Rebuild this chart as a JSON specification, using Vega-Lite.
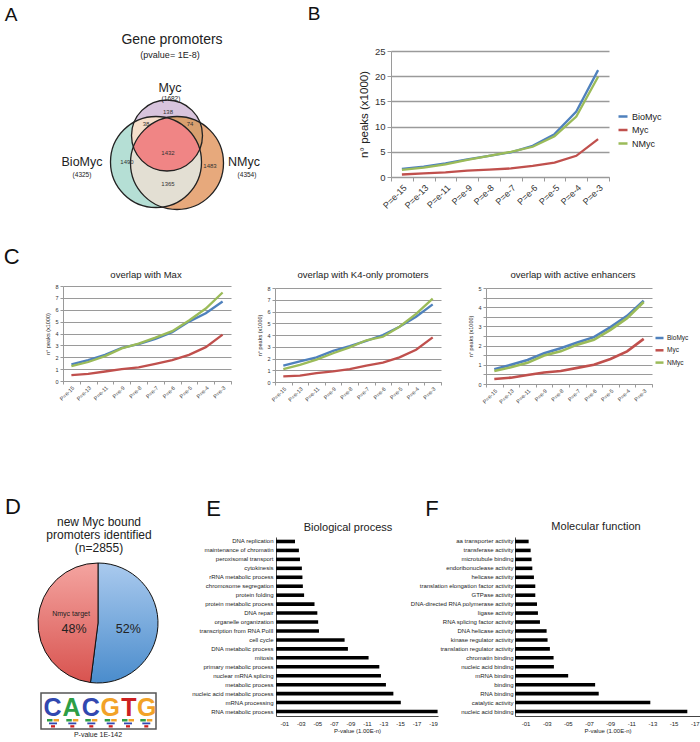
{
  "$schema": "https://vega.github.io/schema/vega-lite/v6.json",
  "width": 700,
  "height": 742,
  "autosize": {"type": "none"},
  "padding": 0,
  "background": "#ffffff",
  "config": {
    "font": "Liberation Sans",
    "view": {"stroke": null},
    "axis": {"labelColor": "#333333", "titleColor": "#222222", "titleFontWeight": "normal", "domainColor": "#9a9a9a", "tickColor": "#9a9a9a", "gridColor": "#9a9a9a"},
    "legend": {"padding": 0, "labelColor": "#222222"},
    "text": {"color": "#222222"}
  },
  "datasets": {
    "lines": [
      {"panel": "B", "p": "P=e-15", "BioMyc": 1.6, "Myc": 0.5, "NMyc": 1.4},
      {"panel": "B", "p": "P=e-13", "BioMyc": 2.05, "Myc": 0.7, "NMyc": 1.85},
      {"panel": "B", "p": "P=e-11", "BioMyc": 2.7, "Myc": 0.9, "NMyc": 2.5},
      {"panel": "B", "p": "P=e-9", "BioMyc": 3.5, "Myc": 1.25, "NMyc": 3.4},
      {"panel": "B", "p": "P=e-8", "BioMyc": 4.2, "Myc": 1.45, "NMyc": 4.2},
      {"panel": "B", "p": "P=e-7", "BioMyc": 4.9, "Myc": 1.7, "NMyc": 5.0},
      {"panel": "B", "p": "P=e-6", "BioMyc": 6.2, "Myc": 2.2, "NMyc": 6.0},
      {"panel": "B", "p": "P=e-5", "BioMyc": 8.5, "Myc": 2.85, "NMyc": 8.1},
      {"panel": "B", "p": "P=e-4", "BioMyc": 13.0, "Myc": 4.2, "NMyc": 12.0},
      {"panel": "B", "p": "P=e-3", "BioMyc": 21.2, "Myc": 7.5, "NMyc": 19.9},
      {"panel": "C1", "p": "P=e-15", "BioMyc": 1.4, "Myc": 0.5, "NMyc": 1.25},
      {"panel": "C1", "p": "P=e-13", "BioMyc": 1.75, "Myc": 0.6, "NMyc": 1.6},
      {"panel": "C1", "p": "P=e-11", "BioMyc": 2.2, "Myc": 0.8, "NMyc": 2.1},
      {"panel": "C1", "p": "P=e-9", "BioMyc": 2.8, "Myc": 1.0, "NMyc": 2.75},
      {"panel": "C1", "p": "P=e-8", "BioMyc": 3.1, "Myc": 1.15, "NMyc": 3.15},
      {"panel": "C1", "p": "P=e-7", "BioMyc": 3.55, "Myc": 1.45, "NMyc": 3.65},
      {"panel": "C1", "p": "P=e-6", "BioMyc": 4.1, "Myc": 1.75, "NMyc": 4.2},
      {"panel": "C1", "p": "P=e-5", "BioMyc": 5.0, "Myc": 2.2, "NMyc": 5.1},
      {"panel": "C1", "p": "P=e-4", "BioMyc": 5.7, "Myc": 2.85, "NMyc": 6.1},
      {"panel": "C1", "p": "P=e-3", "BioMyc": 6.7, "Myc": 3.9, "NMyc": 7.45},
      {"panel": "C2", "p": "P=e-15", "BioMyc": 1.4, "Myc": 0.48, "NMyc": 1.1},
      {"panel": "C2", "p": "P=e-13", "BioMyc": 1.75, "Myc": 0.55, "NMyc": 1.45},
      {"panel": "C2", "p": "P=e-11", "BioMyc": 2.1, "Myc": 0.75, "NMyc": 1.9},
      {"panel": "C2", "p": "P=e-9", "BioMyc": 2.65, "Myc": 0.9, "NMyc": 2.45},
      {"panel": "C2", "p": "P=e-8", "BioMyc": 3.05, "Myc": 1.1, "NMyc": 2.95},
      {"panel": "C2", "p": "P=e-7", "BioMyc": 3.5, "Myc": 1.4, "NMyc": 3.55},
      {"panel": "C2", "p": "P=e-6", "BioMyc": 4.0, "Myc": 1.65, "NMyc": 3.85},
      {"panel": "C2", "p": "P=e-5", "BioMyc": 4.7, "Myc": 2.1, "NMyc": 4.7},
      {"panel": "C2", "p": "P=e-4", "BioMyc": 5.55, "Myc": 2.75, "NMyc": 5.8},
      {"panel": "C2", "p": "P=e-3", "BioMyc": 6.6, "Myc": 3.8, "NMyc": 7.1},
      {"panel": "C3", "p": "P=e-15", "BioMyc": 0.77, "Myc": 0.26, "NMyc": 0.68},
      {"panel": "C3", "p": "P=e-13", "BioMyc": 1.0, "Myc": 0.33, "NMyc": 0.87},
      {"panel": "C3", "p": "P=e-11", "BioMyc": 1.25, "Myc": 0.47, "NMyc": 1.1},
      {"panel": "C3", "p": "P=e-9", "BioMyc": 1.6, "Myc": 0.6, "NMyc": 1.48},
      {"panel": "C3", "p": "P=e-8", "BioMyc": 1.86, "Myc": 0.68, "NMyc": 1.7},
      {"panel": "C3", "p": "P=e-7", "BioMyc": 2.16, "Myc": 0.84, "NMyc": 2.05},
      {"panel": "C3", "p": "P=e-6", "BioMyc": 2.44, "Myc": 1.0, "NMyc": 2.3},
      {"panel": "C3", "p": "P=e-5", "BioMyc": 2.96, "Myc": 1.3, "NMyc": 2.82},
      {"panel": "C3", "p": "P=e-4", "BioMyc": 3.55, "Myc": 1.7, "NMyc": 3.43},
      {"panel": "C3", "p": "P=e-3", "BioMyc": 4.34, "Myc": 2.35, "NMyc": 4.27}
    ],
    "vcircles": [
      {"set": "BioMyc", "x": 156, "y": 162, "r": 45.5},
      {"set": "NMyc", "x": 177, "y": 163, "r": 46.5},
      {"set": "Myc", "x": 167, "y": 135.5, "r": 35.5}
    ],
    "vregions": [
      {"set": "BioMyc∩NMyc", "x": 167, "y": 155},
      {"set": "Myc∩BioMyc", "x": 167, "y": 155},
      {"set": "Myc∩NMyc", "x": 167, "y": 155},
      {"set": "all", "x": 167, "y": 155}
    ],
    "notes": [
      {"k": "letterA", "t": "A", "x": 11, "y": 15},
      {"k": "letterA", "t": "B", "x": 314, "y": 14},
      {"k": "letterC", "t": "C", "x": 11.7, "y": 256.7},
      {"k": "letterC", "t": "D", "x": 13, "y": 507},
      {"k": "letterC", "t": "E", "x": 213.5, "y": 509},
      {"k": "letterC", "t": "F", "x": 432, "y": 509},
      {"k": "title", "t": "Gene promoters", "x": 172, "y": 40},
      {"k": "sub", "t": "(pvalue= 1E-8)", "x": 170, "y": 54.5},
      {"k": "label", "t": "Myc", "x": 170, "y": 88},
      {"k": "label", "t": "BioMyc", "x": 82, "y": 162},
      {"k": "label", "t": "NMyc", "x": 244, "y": 162},
      {"k": "count", "t": "(1682)", "x": 171, "y": 98.5},
      {"k": "count", "t": "(4325)", "x": 82, "y": 174.5},
      {"k": "count", "t": "(4354)", "x": 247, "y": 174.5},
      {"k": "num", "t": "138", "x": 168, "y": 112},
      {"k": "num", "t": "38", "x": 146, "y": 124},
      {"k": "num", "t": "74", "x": 190, "y": 124},
      {"k": "num", "t": "1432", "x": 168, "y": 153},
      {"k": "num", "t": "1490", "x": 127, "y": 162},
      {"k": "num", "t": "1483", "x": 210, "y": 166},
      {"k": "num", "t": "1365", "x": 168, "y": 184},
      {"k": "ctitle", "t": "overlap with Max", "x": 146, "y": 275},
      {"k": "ctitle", "t": "overlap with K4-only promoters", "x": 363, "y": 275},
      {"k": "ctitle", "t": "overlap with active enhancers", "x": 573, "y": 275},
      {"k": "eftitle", "t": "Biological process", "x": 348, "y": 528},
      {"k": "eftitle", "t": "Molecular function", "x": 596, "y": 527},
      {"k": "dtitle", "t": "new Myc bound", "x": 99, "y": 526},
      {"k": "dtitle", "t": "promoters identified", "x": 99, "y": 539},
      {"k": "dtitle", "t": "(n=2855)", "x": 99, "y": 552},
      {"k": "small", "t": "Nmyc target", "x": 71, "y": 614},
      {"k": "small", "t": "P-value 1E-142", "x": 98, "y": 735},
      {"k": "pct", "t": "48%", "x": 74, "y": 629},
      {"k": "pct", "t": "52%", "x": 128.3, "y": 629}
    ],
    "pie": [
      {"grp": "other", "pct": 52, "idx": 1, "x": 98, "y": 623},
      {"grp": "Nmyc target", "pct": 48, "idx": 2, "x": 98, "y": 623}
    ],
    "logo": [
      {"t": "C", "x": 52.5, "y": 716},
      {"t": "A", "x": 71.5, "y": 716},
      {"t": "C", "x": 90.7, "y": 716},
      {"t": "G", "x": 110.3, "y": 716},
      {"t": "T", "x": 129, "y": 716},
      {"t": "G", "x": 146.8, "y": 716}
    ],
    "logobox": [{"x1": 41, "x2": 156, "y1": 693, "y2": 729}],
    "minilogo": [
      {"x1": 47, "x2": 52.5, "y1": 719, "y2": 721.5, "b": "A"},
      {"x1": 53.5, "x2": 59, "y1": 719, "y2": 721.5, "b": "G"},
      {"x1": 49, "x2": 57, "y1": 722.5, "y2": 724.3, "b": "C"},
      {"x1": 51, "x2": 55, "y1": 725.2, "y2": 727.5, "b": "T"},
      {"x1": 66.3, "x2": 71.8, "y1": 719, "y2": 721.5, "b": "A"},
      {"x1": 72.8, "x2": 78.3, "y1": 719, "y2": 721.5, "b": "G"},
      {"x1": 68.3, "x2": 76.3, "y1": 722.5, "y2": 724.3, "b": "C"},
      {"x1": 70.3, "x2": 74.3, "y1": 725.2, "y2": 727.5, "b": "T"},
      {"x1": 85.3, "x2": 90.8, "y1": 719, "y2": 721.5, "b": "A"},
      {"x1": 91.8, "x2": 97.3, "y1": 719, "y2": 721.5, "b": "G"},
      {"x1": 87.3, "x2": 95.3, "y1": 722.5, "y2": 724.3, "b": "C"},
      {"x1": 89.3, "x2": 93.3, "y1": 725.2, "y2": 727.5, "b": "T"},
      {"x1": 104.7, "x2": 110.2, "y1": 719, "y2": 721.5, "b": "A"},
      {"x1": 111.2, "x2": 116.7, "y1": 719, "y2": 721.5, "b": "G"},
      {"x1": 106.7, "x2": 114.7, "y1": 722.5, "y2": 724.3, "b": "C"},
      {"x1": 108.7, "x2": 112.7, "y1": 725.2, "y2": 727.5, "b": "T"},
      {"x1": 122, "x2": 127.5, "y1": 719, "y2": 721.5, "b": "A"},
      {"x1": 128.5, "x2": 134, "y1": 719, "y2": 721.5, "b": "G"},
      {"x1": 124, "x2": 132, "y1": 722.5, "y2": 724.3, "b": "C"},
      {"x1": 126, "x2": 130, "y1": 725.2, "y2": 727.5, "b": "T"},
      {"x1": 140.3, "x2": 145.8, "y1": 719, "y2": 721.5, "b": "A"},
      {"x1": 146.8, "x2": 152.3, "y1": 719, "y2": 721.5, "b": "G"},
      {"x1": 142.3, "x2": 150.3, "y1": 722.5, "y2": 724.3, "b": "C"},
      {"x1": 144.3, "x2": 148.3, "y1": 725.2, "y2": 727.5, "b": "T"}
    ],
    "bp": [
      {"term": "DNA replication", "v": 2.3},
      {"term": "maintenance of chromatin", "v": 2.77},
      {"term": "peroxisomal transport", "v": 2.9},
      {"term": "cytokinesis", "v": 3.13},
      {"term": "rRNA metabolic process", "v": 3.2},
      {"term": "chromosome segregation", "v": 3.25},
      {"term": "protein folding", "v": 3.4},
      {"term": "protein metabolic process", "v": 4.66},
      {"term": "DNA repair", "v": 5.0},
      {"term": "organelle organization", "v": 5.1},
      {"term": "transcription from RNA PolII", "v": 5.2},
      {"term": "cell cycle", "v": 8.3},
      {"term": "DNA metabolic process", "v": 8.7},
      {"term": "mitosis", "v": 11.2},
      {"term": "primary metabolic process", "v": 12.5},
      {"term": "nuclear mRNA splicing", "v": 12.7},
      {"term": "metabolic process", "v": 13.3},
      {"term": "nucleic acid metabolic process", "v": 14.2},
      {"term": "mRNA processing", "v": 15.1},
      {"term": "RNA metabolic process", "v": 19.55}
    ],
    "mf": [
      {"term": "aa transporter activity", "v": 1.29},
      {"term": "transferase activity", "v": 1.48},
      {"term": "microtubule binding", "v": 1.57},
      {"term": "endoribonuclease activity", "v": 1.64},
      {"term": "helicase activity", "v": 1.79},
      {"term": "translation elongation factor activity", "v": 1.92},
      {"term": "GTPase activity", "v": 1.92},
      {"term": "DNA-directed RNA polymerase activity", "v": 2.08},
      {"term": "ligase activity", "v": 2.17},
      {"term": "RNA splicing factor activity", "v": 2.36},
      {"term": "DNA helicase activity", "v": 2.99},
      {"term": "kinase regulator activity", "v": 3.08},
      {"term": "translation regulator activity", "v": 3.3},
      {"term": "chromatin binding", "v": 3.65},
      {"term": "nucleic acid binding ", "v": 3.68},
      {"term": "mRNA binding", "v": 5.03},
      {"term": "binding", "v": 7.58},
      {"term": "RNA binding", "v": 7.92},
      {"term": "catalytic activity", "v": 12.8},
      {"term": "nucleic acid binding", "v": 16.3}
    ]
  },
  "resolve": {
    "scale": {"x": "independent", "y": "independent", "color": "independent"},
    "axis": {"x": "independent", "y": "independent"},
    "legend": {"color": "independent"}
  },
  "layer": [
    {
      "encoding": {
        "x": {"field": "x", "type": "quantitative", "scale": {"domain": [0, 700], "range": [0, 700], "nice": false, "zero": false}, "axis": null},
        "y": {"field": "y", "type": "quantitative", "scale": {"domain": [0, 742], "range": [0, 742], "nice": false, "zero": false}, "axis": null}
      },
      "layer": [
        {
          "data": {"name": "vcircles"},
          "transform": [{"filter": "datum.set !== 'Myc'"}],
          "mark": {"type": "point", "shape": "circle", "filled": true, "opacity": 1, "strokeWidth": 0},
          "encoding": {
            "size": {"field": "r", "type": "quantitative", "scale": {"type": "pow", "exponent": 2, "domain": [0, 50], "range": [0, 10000]}, "legend": null},
            "fill": {"field": "set", "type": "nominal", "scale": {"domain": ["BioMyc", "NMyc", "Myc", "BioMyc∩NMyc", "Myc∩BioMyc", "Myc∩NMyc", "all"], "range": ["#b5dfd5", "#e7a97c", "#d8c4dd", "#e3dfd3", "#f6dfcb", "#d9a06f", "#f08585"]}, "legend": null}
          }
        },
        {
          "data": {"name": "vregions"},
          "transform": [{"filter": "datum.set === 'BioMyc∩NMyc'"}],
          "mark": {"type": "point", "filled": true, "opacity": 1, "strokeWidth": 0, "size": 4},
          "encoding": {
            "shape": {"field": "set", "type": "nominal", "scale": {"domain": ["BioMyc∩NMyc", "Myc∩BioMyc", "Myc∩NMyc", "all"], "range": [
              "M -0.558 -37.285 A 46.5 46.5 0 0 0 -4.812 52.077 A 45.5 45.5 0 0 0 -0.558 -37.285 Z",
              "M -32.875 -32.897 A 45.5 45.5 0 0 1 32.698 -5.677 A 35.5 35.5 0 0 1 -32.875 -32.897 Z",
              "M -33.621 -8.106 A 46.5 46.5 0 0 1 33.087 -32.363 A 35.5 35.5 0 1 1 -33.621 -8.106 Z",
              "M -0.558 -37.285 A 45.5 45.5 0 0 1 32.698 -5.677 A 35.5 35.5 0 0 1 -33.621 -8.106 A 46.5 46.5 0 0 1 -0.558 -37.285 Z"
            ]}, "legend": null},
            "fill": {"field": "set", "type": "nominal", "scale": {"domain": ["BioMyc", "NMyc", "Myc", "BioMyc∩NMyc", "Myc∩BioMyc", "Myc∩NMyc", "all"], "range": ["#b5dfd5", "#e7a97c", "#d8c4dd", "#e3dfd3", "#f6dfcb", "#d9a06f", "#f08585"]}, "legend": null}
          }
        },
        {
          "data": {"name": "vcircles"},
          "transform": [{"filter": "datum.set === 'Myc'"}],
          "mark": {"type": "point", "shape": "circle", "filled": true, "opacity": 1, "strokeWidth": 0},
          "encoding": {
            "size": {"field": "r", "type": "quantitative", "scale": {"type": "pow", "exponent": 2, "domain": [0, 50], "range": [0, 10000]}, "legend": null},
            "fill": {"field": "set", "type": "nominal", "scale": {"domain": ["BioMyc", "NMyc", "Myc", "BioMyc∩NMyc", "Myc∩BioMyc", "Myc∩NMyc", "all"], "range": ["#b5dfd5", "#e7a97c", "#d8c4dd", "#e3dfd3", "#f6dfcb", "#d9a06f", "#f08585"]}, "legend": null}
          }
        },
        {
          "data": {"name": "vregions"},
          "transform": [{"filter": "datum.set !== 'BioMyc∩NMyc'"}],
          "mark": {"type": "point", "filled": true, "opacity": 1, "strokeWidth": 0, "size": 4},
          "encoding": {
            "shape": {"field": "set", "type": "nominal", "scale": {"domain": ["BioMyc∩NMyc", "Myc∩BioMyc", "Myc∩NMyc", "all"], "range": [
              "M -0.558 -37.285 A 46.5 46.5 0 0 0 -4.812 52.077 A 45.5 45.5 0 0 0 -0.558 -37.285 Z",
              "M -32.875 -32.897 A 45.5 45.5 0 0 1 32.698 -5.677 A 35.5 35.5 0 0 1 -32.875 -32.897 Z",
              "M -33.621 -8.106 A 46.5 46.5 0 0 1 33.087 -32.363 A 35.5 35.5 0 1 1 -33.621 -8.106 Z",
              "M -0.558 -37.285 A 45.5 45.5 0 0 1 32.698 -5.677 A 35.5 35.5 0 0 1 -33.621 -8.106 A 46.5 46.5 0 0 1 -0.558 -37.285 Z"
            ]}, "legend": null},
            "fill": {"field": "set", "type": "nominal", "scale": {"domain": ["BioMyc", "NMyc", "Myc", "BioMyc∩NMyc", "Myc∩BioMyc", "Myc∩NMyc", "all"], "range": ["#b5dfd5", "#e7a97c", "#d8c4dd", "#e3dfd3", "#f6dfcb", "#d9a06f", "#f08585"]}, "legend": null}
          }
        },
        {
          "data": {"name": "vcircles"},
          "mark": {"type": "point", "shape": "circle", "filled": false, "opacity": 1, "stroke": "#222222", "strokeWidth": 1.3},
          "encoding": {
            "size": {"field": "r", "type": "quantitative", "scale": {"type": "pow", "exponent": 2, "domain": [0, 50], "range": [0, 10000]}, "legend": null}
          }
        },
        {
          "data": {"name": "pie"},
          "mark": {"type": "arc", "radius": 60, "stroke": "#111111", "strokeWidth": 1},
          "encoding": {
            "theta": {"field": "pct", "type": "quantitative", "stack": true},
            "order": {"field": "idx", "type": "quantitative"},
            "fill": {
              "condition": {"test": "datum.grp === 'Nmyc target'", "value": {"gradient": "linear", "x1": 0, "y1": 0, "x2": 0, "y2": 1, "stops": [{"offset": 0, "color": "#f4a4a0"}, {"offset": 1, "color": "#d8534f"}]}},
              "value": {"gradient": "linear", "x1": 0, "y1": 0, "x2": 0, "y2": 1, "stops": [{"offset": 0, "color": "#aacaee"}, {"offset": 1, "color": "#4a8ccc"}]}
            }
          }
        },
        {
          "data": {"name": "logobox"},
          "mark": {"type": "rect", "fill": "#ffffff", "stroke": "#555555", "strokeWidth": 1.5},
          "encoding": {
            "x": {"field": "x1", "type": "quantitative", "scale": {"domain": [0, 700], "range": [0, 700], "nice": false, "zero": false}, "axis": null},
            "x2": {"field": "x2"},
            "y": {"field": "y1", "type": "quantitative", "scale": {"domain": [0, 742], "range": [0, 742], "nice": false, "zero": false}, "axis": null},
            "y2": {"field": "y2"}
          }
        },
        {
          "data": {"name": "minilogo"},
          "mark": {"type": "rect"},
          "encoding": {
            "x": {"field": "x1", "type": "quantitative", "scale": {"domain": [0, 700], "range": [0, 700], "nice": false, "zero": false}, "axis": null},
            "x2": {"field": "x2"},
            "y": {"field": "y1", "type": "quantitative", "scale": {"domain": [0, 742], "range": [0, 742], "nice": false, "zero": false}, "axis": null},
            "y2": {"field": "y2"},
            "color": {"field": "b", "type": "nominal", "scale": {"domain": ["A", "C", "G", "T"], "range": ["#2e9e45", "#3148b0", "#f2a227", "#cc2020"]}, "legend": null}
          }
        },
        {
          "data": {"name": "logo"},
          "mark": {"type": "text", "fontWeight": "bold", "fontSize": 25, "align": "center", "baseline": "alphabetic"},
          "encoding": {
            "text": {"field": "t"},
            "color": {"field": "t", "type": "nominal", "scale": {"domain": ["A", "C", "G", "T"], "range": ["#2e9e45", "#3148b0", "#f2a227", "#cc2020"]}, "legend": null}
          }
        },
        {
          "data": {"name": "notes"},
          "transform": [{"filter": "datum.k === 'letterA'"}],
          "mark": {"type": "text", "fontSize": 19, "align": "center", "baseline": "middle", "color": "#111111"},
          "encoding": {"text": {"field": "t"}}
        },
        {
          "data": {"name": "notes"},
          "transform": [{"filter": "datum.k === 'letterC'"}],
          "mark": {"type": "text", "fontSize": 22, "align": "center", "baseline": "middle", "color": "#111111"},
          "encoding": {"text": {"field": "t"}}
        },
        {
          "data": {"name": "notes"},
          "transform": [{"filter": "datum.k === 'title'"}],
          "mark": {"type": "text", "fontSize": 14, "align": "center", "baseline": "middle"},
          "encoding": {"text": {"field": "t"}}
        },
        {
          "data": {"name": "notes"},
          "transform": [{"filter": "datum.k === 'sub'"}],
          "mark": {"type": "text", "fontSize": 9, "align": "center", "baseline": "middle"},
          "encoding": {"text": {"field": "t"}}
        },
        {
          "data": {"name": "notes"},
          "transform": [{"filter": "datum.k === 'label'"}],
          "mark": {"type": "text", "fontSize": 12.5, "align": "center", "baseline": "middle"},
          "encoding": {"text": {"field": "t"}}
        },
        {
          "data": {"name": "notes"},
          "transform": [{"filter": "datum.k === 'count'"}],
          "mark": {"type": "text", "fontSize": 6.5, "align": "center", "baseline": "middle"},
          "encoding": {"text": {"field": "t"}}
        },
        {
          "data": {"name": "notes"},
          "transform": [{"filter": "datum.k === 'num'"}],
          "mark": {"type": "text", "fontSize": 6, "align": "center", "baseline": "middle", "color": "#333333"},
          "encoding": {"text": {"field": "t"}}
        },
        {
          "data": {"name": "notes"},
          "transform": [{"filter": "datum.k === 'ctitle'"}],
          "mark": {"type": "text", "fontSize": 9.5, "align": "center", "baseline": "middle"},
          "encoding": {"text": {"field": "t"}}
        },
        {
          "data": {"name": "notes"},
          "transform": [{"filter": "datum.k === 'eftitle'"}],
          "mark": {"type": "text", "fontSize": 11, "align": "center", "baseline": "middle"},
          "encoding": {"text": {"field": "t"}}
        },
        {
          "data": {"name": "notes"},
          "transform": [{"filter": "datum.k === 'dtitle'"}],
          "mark": {"type": "text", "fontSize": 12, "align": "center", "baseline": "alphabetic"},
          "encoding": {"text": {"field": "t"}}
        },
        {
          "data": {"name": "notes"},
          "transform": [{"filter": "datum.k === 'small'"}],
          "mark": {"type": "text", "fontSize": 7, "align": "center", "baseline": "middle"},
          "encoding": {"text": {"field": "t"}}
        },
        {
          "data": {"name": "notes"},
          "transform": [{"filter": "datum.k === 'pct'"}],
          "mark": {"type": "text", "fontSize": 12.5, "align": "center", "baseline": "middle"},
          "encoding": {"text": {"field": "t"}}
        }
      ]
    },
    {
      "data": {"name": "lines"},
      "transform": [{"filter": "datum.panel === 'B'"}, {"fold": ["BioMyc", "Myc", "NMyc"], "as": ["s", "v"]}],
      "mark": {"type": "line", "strokeWidth": 2.3},
      "encoding": {
        "x": {"field": "p", "type": "nominal", "sort": ["P=e-15", "P=e-13", "P=e-11", "P=e-9", "P=e-8", "P=e-7", "P=e-6", "P=e-5", "P=e-4", "P=e-3"], "scale": {"type": "band", "range": [391, 609], "paddingInner": 0, "paddingOuter": 0}, "axis": {"orient": "bottom", "offset": -565, "title": null, "labelAngle": -45, "labelFontSize": 9, "tickBand": "extent", "tickSize": 4, "labelPadding": 2}},
        "y": {"field": "v", "type": "quantitative", "scale": {"domain": [0, 25], "range": [177, 51], "nice": false}, "axis": {"orient": "left", "offset": -391, "values": [0, 5, 10, 15, 20, 25], "title": "n° peaks (x1000)", "titleFontSize": 11.5, "labelFontSize": 9.5, "grid": true, "gridWidth": 1.3, "tickSize": 4, "labelPadding": 2, "titlePadding": 5}},
        "color": {"field": "s", "type": "nominal", "scale": {"domain": ["BioMyc", "Myc", "NMyc"], "range": ["#4f81bd", "#c0504d", "#9bbb59"]}, "legend": {"orient": "none", "legendX": 617, "legendY": 110.5, "title": null, "symbolType": "stroke", "symbolStrokeWidth": 2.5, "symbolSize": 81, "labelFontSize": 9, "rowPadding": 2.5, "labelOffset": 3}}
      }
    },
    {
      "data": {"name": "lines"},
      "transform": [{"filter": "datum.panel === 'C1'"}, {"fold": ["BioMyc", "Myc", "NMyc"], "as": ["s", "v"]}],
      "mark": {"type": "line", "strokeWidth": 2.3},
      "encoding": {
        "x": {"field": "p", "type": "nominal", "sort": ["P=e-15", "P=e-13", "P=e-11", "P=e-9", "P=e-8", "P=e-7", "P=e-6", "P=e-5", "P=e-4", "P=e-3"], "scale": {"type": "band", "range": [63, 231], "paddingInner": 0, "paddingOuter": 0}, "axis": {"orient": "bottom", "offset": -361, "title": null, "labelAngle": -45, "labelFontSize": 5.5, "tickBand": "extent", "tickSize": 3, "labelPadding": 1}},
        "y": {"field": "v", "type": "quantitative", "scale": {"domain": [0, 8], "range": [381, 286], "nice": false}, "axis": {"orient": "left", "offset": -63, "values": [0, 1, 2, 3, 4, 5, 6, 7, 8], "title": "n° peaks (x1000)", "titleFontSize": 5.5, "labelFontSize": 5.5, "grid": true, "gridWidth": 1.2, "tickSize": 3, "labelPadding": 2, "titlePadding": 4}},
        "color": {"field": "s", "type": "nominal", "scale": {"domain": ["BioMyc", "Myc", "NMyc"], "range": ["#4f81bd", "#c0504d", "#9bbb59"]}, "legend": null}
      }
    },
    {
      "data": {"name": "lines"},
      "transform": [{"filter": "datum.panel === 'C2'"}, {"fold": ["BioMyc", "Myc", "NMyc"], "as": ["s", "v"]}],
      "mark": {"type": "line", "strokeWidth": 2.3},
      "encoding": {
        "x": {"field": "p", "type": "nominal", "sort": ["P=e-15", "P=e-13", "P=e-11", "P=e-9", "P=e-8", "P=e-7", "P=e-6", "P=e-5", "P=e-4", "P=e-3"], "scale": {"type": "band", "range": [275, 441], "paddingInner": 0, "paddingOuter": 0}, "axis": {"orient": "bottom", "offset": -360, "title": null, "labelAngle": -45, "labelFontSize": 5.5, "tickBand": "extent", "tickSize": 3, "labelPadding": 1}},
        "y": {"field": "v", "type": "quantitative", "scale": {"domain": [0, 8], "range": [382, 288], "nice": false}, "axis": {"orient": "left", "offset": -275, "values": [0, 1, 2, 3, 4, 5, 6, 7, 8], "title": "n° peaks (x1000)", "titleFontSize": 5.5, "labelFontSize": 5.5, "grid": true, "gridWidth": 1.2, "tickSize": 3, "labelPadding": 2, "titlePadding": 4}},
        "color": {"field": "s", "type": "nominal", "scale": {"domain": ["BioMyc", "Myc", "NMyc"], "range": ["#4f81bd", "#c0504d", "#9bbb59"]}, "legend": null}
      }
    },
    {
      "data": {"name": "lines"},
      "transform": [{"filter": "datum.panel === 'C3'"}, {"fold": ["BioMyc", "Myc", "NMyc"], "as": ["s", "v"]}],
      "mark": {"type": "line", "strokeWidth": 2.6},
      "encoding": {
        "x": {"field": "p", "type": "nominal", "sort": ["P=e-15", "P=e-13", "P=e-11", "P=e-9", "P=e-8", "P=e-7", "P=e-6", "P=e-5", "P=e-4", "P=e-3"], "scale": {"type": "band", "range": [486, 652], "paddingInner": 0, "paddingOuter": 0}, "axis": {"orient": "bottom", "offset": -358, "title": null, "labelAngle": -45, "labelFontSize": 5.5, "tickBand": "extent", "tickSize": 3, "labelPadding": 1}},
        "y": {"field": "v", "type": "quantitative", "scale": {"domain": [0, 5], "range": [384, 288], "nice": false}, "axis": {"orient": "left", "offset": -486, "values": [0, 0.5, 1, 1.5, 2, 2.5, 3, 3.5, 4, 4.5, 5], "labelExpr": "(datum.value * 2) % 2 == 0 ? '' + datum.value : ''", "title": "n° peaks (x1000)", "titleFontSize": 5.5, "labelFontSize": 5.5, "grid": true, "gridWidth": 1.2, "tickSize": 3, "labelPadding": 2, "titlePadding": 4}},
        "color": {"field": "s", "type": "nominal", "scale": {"domain": ["BioMyc", "Myc", "NMyc"], "range": ["#4f81bd", "#c0504d", "#9bbb59"]}, "legend": {"orient": "none", "legendX": 654, "legendY": 332.5, "title": null, "symbolType": "stroke", "symbolStrokeWidth": 2.5, "symbolSize": 64, "labelFontSize": 6.5, "rowPadding": 1.3, "labelOffset": 2}}
      }
    },
    {
      "data": {"name": "bp"},
      "mark": {"type": "bar", "color": "#000000"},
      "encoding": {
        "y": {"field": "term", "type": "nominal", "sort": null, "scale": {"range": [537, 716], "paddingInner": 0.6, "paddingOuter": 0.3}, "axis": {"orient": "left", "offset": -276, "title": null, "labelFontSize": 6, "labelColor": "#222222", "ticks": false, "labelPadding": 3, "domainColor": "#444444", "labelLimit": 300}},
        "x": {"field": "v", "type": "quantitative", "scale": {"domain": [0, 19.6], "range": [276, 438], "nice": false, "zero": true}, "axis": {"orient": "bottom", "offset": -26, "values": [1, 3, 5, 7, 9, 11, 13, 15, 17, 19], "labelExpr": "'-' + (datum.value < 10 ? '0' : '') + datum.value", "labelFontSize": 6, "labelColor": "#222222", "title": "P-value (1.00E-n)", "titleFontSize": 6, "titlePadding": 1, "grid": false, "ticks": false, "domainColor": "#444444", "labelPadding": 4}}
      }
    },
    {
      "data": {"name": "mf"},
      "mark": {"type": "bar", "color": "#000000"},
      "encoding": {
        "y": {"field": "term", "type": "nominal", "sort": null, "scale": {"range": [537, 716], "paddingInner": 0.6, "paddingOuter": 0.3}, "axis": {"orient": "left", "offset": -515, "title": null, "labelFontSize": 6, "labelColor": "#222222", "ticks": false, "labelPadding": 2, "domainColor": "#444444", "labelLimit": 300}},
        "x": {"field": "v", "type": "quantitative", "scale": {"domain": [0, 17.5], "range": [515, 700], "nice": false, "zero": true}, "axis": {"orient": "bottom", "offset": -26, "values": [1, 3, 5, 7, 9, 11, 13, 15, 17], "labelExpr": "'-' + (datum.value < 10 ? '0' : '') + datum.value", "labelFontSize": 6, "labelColor": "#222222", "title": "P-value (1.00E-n)", "titleFontSize": 6, "titlePadding": 1, "grid": false, "ticks": false, "domainColor": "#444444", "labelPadding": 4}}
      }
    }
  ]
}
